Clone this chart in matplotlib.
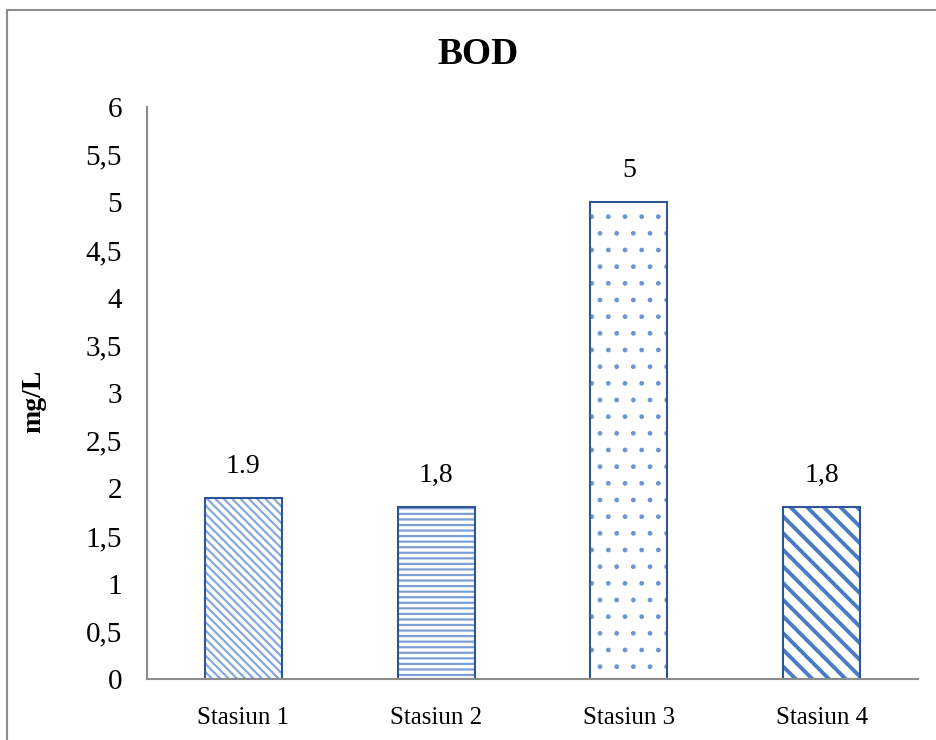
import matplotlib as mpl
import matplotlib.pyplot as plt
from matplotlib.patches import Rectangle

# BOD per station (mg/L)
stations = ['Stasiun 1', 'Stasiun 2', 'Stasiun 3', 'Stasiun 4']
bod = [1.9, 1.8, 5.0, 1.8]
value_labels = ['1.9', '1,8', '5', '1,8']
yticks = [0, 0.5, 1, 1.5, 2, 2.5, 3, 3.5, 4, 4.5, 5, 5.5, 6]
ytick_labels = ['0', '0,5', '1', '1,5', '2', '2,5', '3', '3,5', '4', '4,5', '5', '5,5', '6']

# fill style per bar: hatch, hatch colour, hatch line width
hatches = ['\\\\\\\\', '---', '.', '\\\\']
hatch_colors = ['#86a8db', '#7c9fd6', '#6d95d2', '#4a7cc4']
hatch_widths = [1.6, 1.6, 1.0, 2.8]

plt.rcParams['font.family'] = ['Liberation Serif', 'DejaVu Serif']

fig = plt.figure(figsize=(9.36, 7.4), dpi=100)
ax = fig.add_axes([147 / 936, 61 / 740, 771 / 936, 572 / 740])

# outer frame around the chart area
fig.patches.append(Rectangle((7 / 936, -0.05), 1.2, 0.9865 + 0.05,
                             transform=fig.transFigure, fill=False,
                             edgecolor='#8c8c8c', linewidth=1.5))

for i, v in enumerate(bod):
    # hatch layer first, then the dark outline on top
    with mpl.rc_context({'hatch.linewidth': hatch_widths[i]}):
        bars = ax.bar(i, v, width=0.4, color='white', edgecolor=hatch_colors[i],
                      hatch=hatches[i], linewidth=0)
    for b in bars:
        if hasattr(b, 'set_hatch_linewidth'):
            b.set_hatch_linewidth(hatch_widths[i])
    ax.bar(i, v, width=0.4, fill=False, edgecolor='#2f5597', linewidth=1.5)
    ax.text(i, v + 0.2, value_labels[i], ha='center', va='bottom', fontsize=20)

ax.set_xlim(-0.5, 3.5)
ax.set_ylim(0, 6)
ax.set_xticks(range(len(stations)))
ax.set_xticklabels(stations, fontsize=18)
ax.set_yticks(yticks)
ax.set_yticklabels(ytick_labels, fontsize=21)
ax.tick_params(axis='both', length=0)
ax.tick_params(axis='y', pad=18)
ax.tick_params(axis='x', pad=20)

for side in ['top', 'right']:
    ax.spines[side].set_visible(False)
for side in ['left', 'bottom']:
    ax.spines[side].set_color('#8c8c8c')
    ax.spines[side].set_linewidth(1.5)

ax.set_ylabel('mg/L', fontsize=20, fontweight='bold')
ax.yaxis.set_label_coords(-0.131, 0.486)
fig.text(478 / 936, 1 - 55 / 740, 'BOD', ha='center', va='center',
         fontsize=27, fontweight='bold')

fig.savefig('out.png', dpi=100)
